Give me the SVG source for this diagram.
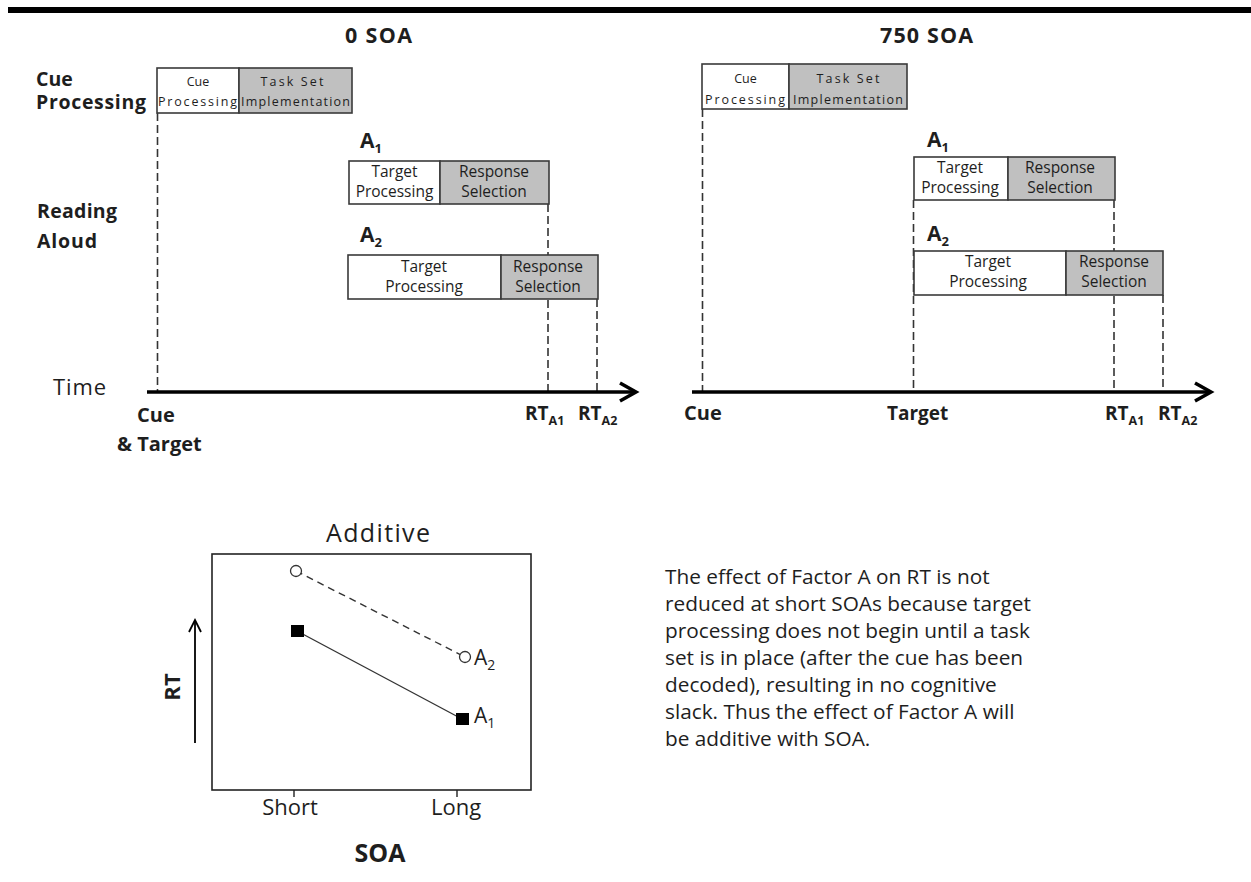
<svg xmlns="http://www.w3.org/2000/svg" width="1251" height="882" viewBox="0 0 1251 882">
<defs>
<style>
text{font-family:"Open Sans","Noto Sans",sans-serif;fill:#1e1e1e}
.b{font-weight:bold}
.h{font-size:19.5px;font-weight:bold}
.bx{font-size:15.5px;text-anchor:middle}
.sm{font-size:12.5px;text-anchor:middle}
.st{font-size:12.5px;text-anchor:start}
.w{fill:#fff;stroke:#3a3a3a;stroke-width:1.6}
.g{fill:#c0c0c0;stroke:#3a3a3a;stroke-width:1.6}
.d{stroke:#333;stroke-width:1.6;stroke-dasharray:8 4;fill:none}
.ax{stroke:#000;stroke-width:3.5;fill:none}
.ah{stroke:#000;stroke-width:3.5;fill:none;stroke-linejoin:miter}
.para{font-size:20.8px;fill:#1e1e1e}
</style>
</defs>
<rect id="topbar" x="8" y="7" width="1243" height="6" fill="#000"/>

<g id="connectors">
<line class="d" x1="157.5" y1="113" x2="157.5" y2="391"/>
<line class="d" x1="548" y1="204" x2="548" y2="391"/>
<line class="d" x1="597" y1="299" x2="597" y2="391"/>
<line class="d" x1="702.5" y1="109" x2="702.5" y2="391"/>
<line class="d" x1="913.5" y1="200" x2="913.5" y2="391"/>
<line class="d" x1="1114" y1="200" x2="1114" y2="391"/>
<line class="d" x1="1163" y1="295" x2="1163" y2="391"/>
<line class="ax" x1="147" y1="392" x2="636" y2="392"/>
<polyline class="ah" points="620,383 636,392 620,401"/>
<line class="ax" x1="692" y1="392" x2="1211" y2="392"/>
<polyline class="ah" points="1195,383 1211,392 1195,401"/>
</g>

<g id="titles">
<text class="b" x="345" y="43" font-size="21.5" textLength="67">0 SOA</text>
<text class="b" x="880" y="43" font-size="21.5" textLength="93">750 SOA</text>
<text class="h"><tspan x="36" y="86">Cue</tspan><tspan x="36" y="108.5" textLength="110">Processing</tspan></text>
<text class="h"><tspan x="37" y="218" textLength="80">Reading</tspan><tspan x="37" y="248" textLength="60">Aloud</tspan></text>
<text x="53" y="395" font-size="22" textLength="53" fill="#2a2a2a">Time</text>
</g>

<g id="cue0">
<rect class="w" x="157" y="68" width="82" height="45"/>
<rect class="g" x="239" y="68" width="113" height="45"/>
<text class="sm" x="198" y="86">Cue</text>
<text class="st" x="158" y="106" textLength="79">Processing</text>
<text class="sm" x="292" y="86" textLength="63">Task Set</text>
<text class="st" x="241" y="106" textLength="109">Implementation</text>
</g>

<g id="a1_0">
<text class="b" x="360" y="148" font-size="21">A<tspan font-size="13" dy="5">1</tspan></text>
<rect class="w" x="349" y="161" width="91" height="43"/>
<rect class="g" x="440" y="161" width="109" height="43"/>
<text class="bx" x="394.5" y="177">Target</text>
<text class="bx" x="394.5" y="197">Processing</text>
<text class="bx" x="494" y="177">Response</text>
<text class="bx" x="494" y="197">Selection</text>
</g>

<g id="a2_0">
<text class="b" x="360" y="242" font-size="21">A<tspan font-size="13" dy="5">2</tspan></text>
<rect class="w" x="348" y="255" width="153" height="44"/>
<rect class="g" x="501" y="255" width="97" height="44"/>
<text class="bx" x="424" y="272">Target</text>
<text class="bx" x="424" y="292">Processing</text>
<text class="bx" x="548" y="272">Response</text>
<text class="bx" x="548" y="292">Selection</text>
</g>

<g id="cue750">
<rect class="w" x="702" y="64" width="87" height="45"/>
<rect class="g" x="789" y="64" width="118" height="45"/>
<text class="sm" x="745.5" y="83">Cue</text>
<text class="st" x="705" y="104" textLength="80">Processing</text>
<text class="sm" x="848" y="83" textLength="63">Task Set</text>
<text class="st" x="793" y="104" textLength="110">Implementation</text>
</g>

<g id="a1_750">
<text class="b" x="927" y="147" font-size="21">A<tspan font-size="13" dy="5">1</tspan></text>
<rect class="w" x="914" y="157" width="94" height="43"/>
<rect class="g" x="1008" y="157" width="107" height="43"/>
<text class="bx" x="960" y="173">Target</text>
<text class="bx" x="960" y="193">Processing</text>
<text class="bx" x="1060" y="173">Response</text>
<text class="bx" x="1060" y="193">Selection</text>
</g>

<g id="a2_750">
<text class="b" x="927" y="241" font-size="21">A<tspan font-size="13" dy="5">2</tspan></text>
<rect class="w" x="914" y="251" width="152" height="44"/>
<rect class="g" x="1066" y="251" width="97" height="44"/>
<text class="bx" x="988" y="267">Target</text>
<text class="bx" x="988" y="287">Processing</text>
<text class="bx" x="1114" y="267">Response</text>
<text class="bx" x="1114" y="287">Selection</text>
</g>

<g id="axislabels">
<text class="b" x="137" y="422" font-size="20">Cue</text>
<text class="b" x="117" y="451" font-size="20">&amp; Target</text>
<text class="b" x="525" y="420" font-size="19">RT<tspan font-size="12.5" dy="5">A1</tspan></text>
<text class="b" x="578" y="420" font-size="19">RT<tspan font-size="12.5" dy="5">A2</tspan></text>
<text class="b" x="684" y="420" font-size="20">Cue</text>
<text class="b" x="887" y="420" font-size="19">Target</text>
<text class="b" x="1105" y="420" font-size="19">RT<tspan font-size="12.5" dy="5">A1</tspan></text>
<text class="b" x="1158" y="420" font-size="19">RT<tspan font-size="12.5" dy="5">A2</tspan></text>
</g>

<g id="chart">
<text x="378" y="542" font-size="25" text-anchor="middle" textLength="104">Additive</text>
<rect x="212" y="554" width="319" height="236" fill="none" stroke="#222" stroke-width="1.6"/>
<line x1="294" y1="790" x2="294" y2="797" stroke="#222" stroke-width="1.4"/>
<line x1="457" y1="790" x2="457" y2="797" stroke="#222" stroke-width="1.4"/>
<line x1="296" y1="571" x2="465" y2="657" stroke="#333" stroke-width="1.4" stroke-dasharray="7 5"/>
<line x1="297" y1="631" x2="462" y2="719" stroke="#333" stroke-width="1.4"/>
<circle cx="296" cy="571" r="5.5" fill="#fff" stroke="#333" stroke-width="1.3"/>
<circle cx="465" cy="657" r="5.5" fill="#fff" stroke="#333" stroke-width="1.3"/>
<rect x="291" y="625" width="13" height="12" fill="#000"/>
<rect x="456" y="713" width="13" height="12" fill="#000"/>
<text x="474" y="665" font-size="21">A<tspan font-size="14" dy="5">2</tspan></text>
<text x="474" y="723" font-size="21">A<tspan font-size="14" dy="5">1</tspan></text>
<line x1="195" y1="743" x2="195" y2="621" stroke="#000" stroke-width="1.8"/>
<polyline points="189,632 195,620 201,632" fill="none" stroke="#000" stroke-width="1.8"/>
<text class="b" x="0" y="0" font-size="22" text-anchor="middle" transform="translate(180,687) rotate(-90)">RT</text>
<text x="290" y="815" font-size="22" text-anchor="middle">Short</text>
<text x="456" y="815" font-size="22" text-anchor="middle">Long</text>
<text class="b" x="380" y="862" font-size="25" text-anchor="middle">SOA</text>
</g>

<g id="explanation">
<text class="para" x="665" y="584">The effect of Factor A on RT is not</text>
<text class="para" x="665" y="611">reduced at short SOAs because target</text>
<text class="para" x="665" y="638">processing does not begin until a task</text>
<text class="para" x="665" y="665">set is in place (after the cue has been</text>
<text class="para" x="665" y="692">decoded), resulting in no cognitive</text>
<text class="para" x="665" y="719">slack. Thus the effect of Factor A will</text>
<text class="para" x="665" y="746">be additive with SOA.</text>
</g>
</svg>
